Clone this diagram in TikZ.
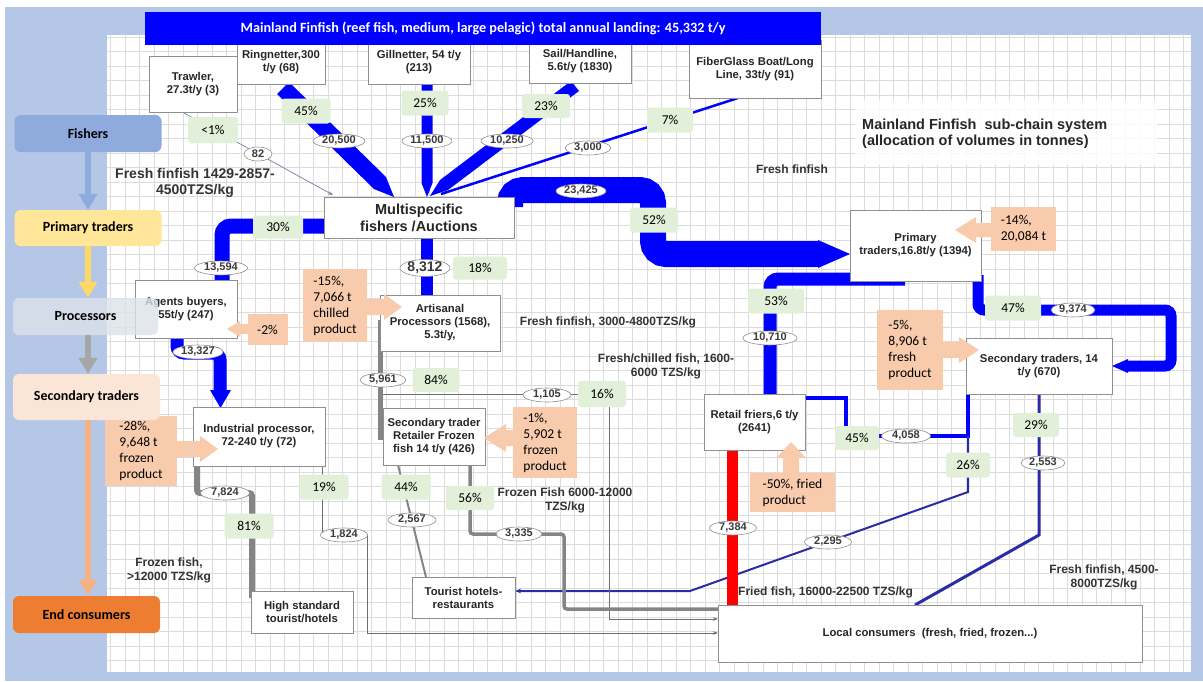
\documentclass[tikz,border=0pt]{standalone}
\usepackage{fontspec}
\setmainfont{Liberation Sans}
\newfontfamily\calfont{Carlito}
\usetikzlibrary{arrows.meta,shapes.geometric}

\definecolor{frameblue}{HTML}{B4C7E7}
\definecolor{gridline}{HTML}{DCDCDC}
\definecolor{flowblue}{HTML}{0000FF}
\definecolor{navyflow}{HTML}{2B2BA6}
\definecolor{trawlc}{HTML}{7080A8}
\definecolor{flowgrey}{HTML}{858585}
\definecolor{thingrey}{HTML}{707070}
\definecolor{boxedge}{HTML}{8F8F8F}
\definecolor{pctfill}{HTML}{E2F0D9}
\definecolor{callfill}{HTML}{F8CBAD}
\definecolor{fishfill}{HTML}{8FAADC}
\definecolor{primfill}{HTML}{FFE699}
\definecolor{primarrow}{HTML}{FFD966}
\definecolor{procfill}{HTML}{DCE1EA}
\definecolor{procarrow}{HTML}{A6A6A6}
\definecolor{secfill}{HTML}{FBE5D6}
\definecolor{secarrow}{HTML}{F4B183}
\definecolor{endfill}{HTML}{ED7D31}
\definecolor{txt}{HTML}{262626}
\definecolor{volt}{HTML}{3A3A3A}
\definecolor{notec}{HTML}{333333}

% block arrows of the orange callouts
\newcommand\calloutleft[6]{% tip x, tip y, box edge x, head length, head half, shaft half
  \fill[callfill] (#1,#2) -- ({#1+#4},{#2-#5}) -- ({#1+#4},{#2-#6}) -- (#3,{#2-#6})
    -- (#3,{#2+#6}) -- ({#1+#4},{#2+#6}) -- ({#1+#4},{#2+#5}) -- cycle;}
\newcommand\calloutright[6]{%
  \fill[callfill] (#1,#2) -- ({#1-#4},{#2-#5}) -- ({#1-#4},{#2-#6}) -- (#3,{#2-#6})
    -- (#3,{#2+#6}) -- ({#1-#4},{#2+#6}) -- ({#1-#4},{#2+#5}) -- cycle;}
\newcommand\calloutup[6]{% tip x, tip y, box edge y, ...
  \fill[callfill] (#1,#2) -- ({#1-#5},{#2+#4}) -- ({#1-#6},{#2+#4}) -- ({#1-#6},#3)
    -- ({#1+#6},#3) -- ({#1+#6},{#2+#4}) -- ({#1+#5},{#2+#4}) -- cycle;}

\begin{document}
\begin{tikzpicture}[x=1pt,y=-1pt,
  box/.style={draw=boxedge, line width=0.8pt, fill=white, align=center, inner sep=0pt,
    text=txt, font=\bfseries\fontsize{11.3}{13}\selectfont},
  pct/.style={fill=pctfill, rounded corners=3pt, inner sep=0pt,
    font=\calfont\fontsize{13.5}{16}\selectfont},
  vol/.style={ellipse, draw=boxedge, line width=0.6pt, fill=white, inner sep=0pt,
    minimum height=14pt, text=volt, font=\bfseries\fontsize{11}{12}\selectfont},
  callout/.style={fill=callfill, inner sep=0pt, align=left,
    font=\calfont\fontsize{13.5}{16}\selectfont},
  stage/.style={rounded corners=6pt, inner sep=0pt, minimum width=147pt,
    font=\calfont\bfseries\fontsize{14}{16}\selectfont},
  stagearrow/.style={line width=6pt, -{Triangle[length=16pt,width=18pt]}},
  note/.style={align=center, text=notec, font=\bfseries\fontsize{12}{14}\selectfont},
  band/.style={draw=flowblue, line width=#1, rounded corners=9pt},
  greyband/.style={draw=flowgrey, line width=#1, rounded corners=3pt},
  thin/.style={draw=thingrey, line width=0.8pt},
]
\useasboundingbox (0,0) rectangle (1203,681);
\fill[white] (0,0) rectangle (1203,681);
\fill[frameblue] (5,7) rectangle (1203,681);

% squared paper
\begin{scope}
  \clip (107,35) rectangle (1191,672);
  \fill[white] (107,35) rectangle (1191,672);
  \foreach \i in {0,...,75}
    \draw[gridline, line width=0.6pt] ({110.5+14.5*\i},35) -- ({110.5+14.5*\i},672);
  \foreach \j in {0,...,44}
    \draw[gridline, line width=0.6pt] (107,{37+14.5*\j}) -- (1191,{37+14.5*\j});
\end{scope}

% ---------- landings from the fleets ----------
\draw[trawlc, line width=0.7pt, -{Stealth[length=5pt,width=3.5pt]}] (184,113) -- (333,195);
\fill[flowblue] (277,94) -- (289,82) -- (386,177) -- (394,197) -- (374,189) -- cycle;
\fill[flowblue] (421.5,84) -- (432.5,84) -- (432.5,183) -- (427,197) -- (421.5,183) -- cycle;
\fill[flowblue] (571,81) -- (579,91) -- (448,190) -- (430,196) -- (440,180) -- cycle;
\draw[flowblue, line width=2.5pt] (738,98) -- (441,194);

% ---------- fresh fish out of the auctions ----------
\draw[band=26pt, rounded corners=13pt] (510,207) -- (510,190) -- (653,190) -- (653,254) -- (819,254);
\fill[flowblue] (818,240) -- (850,254) -- (818,268) -- cycle;
\draw[band=15pt] (324,226) -- (222,226) -- (222,282);
\draw[band=13pt, rounded corners=7pt] (177,336) -- (177,353) -- (220,353) -- (220,392);
\fill[flowblue] (210,390) -- (220.5,408) -- (231,390) -- cycle;
\draw[band=12pt, rounded corners=0pt] (427,238) -- (427,296);
\draw[band=13pt, rounded corners=8pt] (905,279) -- (770,279) -- (770,395);
\draw[band=11pt, rounded corners=6pt] (978,275) -- (978,310) -- (1171,310) -- (1171,366) -- (1127,366);
\fill[flowblue] (1128,359) -- (1112,366) -- (1128,373) -- cycle;

\draw[flowblue, line width=4pt] (968,394) -- (968,436) -- (846,436) -- (846,398) -- (805,398);
\draw[navyflow, line width=2pt, -{Stealth[length=6pt,width=4.5pt]}] (968,436) -- (968,492) -- (690,591) -- (515,591);
\draw[navyflow, line width=3pt] (1039,394) -- (1039,535) -- (915,605);
\draw[red, line width=11pt] (732.5,450) -- (732.5,605);

% ---------- chilled and frozen fish ----------
\draw[flowgrey, line width=5pt] (380.5,320) -- (380.5,440);
\draw[thin, -{Stealth[length=5pt,width=3.5pt]}] (383,394) -- (609,394) -- (609,619) -- (718,619);
\draw[flowgrey, line width=2pt] (398,465) -- (426,577);
\draw[greyband=3.5pt] (470,465) -- (470,534) -- (564,534) -- (564,609) -- (718,609);
\draw[greyband=6pt] (197,466) -- (197,493) -- (252,493) -- (252,598);
\draw[thin, -{Stealth[length=5pt,width=3.5pt]}] (322,466) -- (322,534) -- (367,534) -- (367,633) -- (718,633);

% ---------- actors ----------
\node[box, minimum width=88pt, minimum height=56pt] (trawler) at (193,84) {Trawler,\\27.3t/y (3)};
\node[box, minimum width=88pt, minimum height=44pt] (ring) at (281,62) {Ringnetter,300\\t/y (68)};
\node[box, minimum width=102pt, minimum height=44pt] (gill) at (419,62) {Gillnetter, 54 t/y\\(213)};
\node[box, minimum width=102pt, minimum height=43pt] (sail) at (580,61.5) {Sail/Handline,\\5.6t/y (1830)};
\node[box, minimum width=132pt, minimum height=58pt] (fiber) at (755,69) {FiberGlass Boat/Long\\Line, 33t/y (91)};

\node[box, minimum width=190pt, minimum height=41pt, font=\bfseries\fontsize{14.5}{17}\selectfont] (multi) at (419,217.5) {Multispecific\\fishers /Auctions};
\node[box, minimum width=102pt, minimum height=58pt] (agents) at (186,309) {Agents buyers,\\55t/y (247)};
\node[box, minimum width=120pt, minimum height=56pt] (artisan) at (440,323) {Artisanal\\Processors (1568),\\5.3t/y,};
\node[box, minimum width=132pt, minimum height=59pt] (industrial) at (259,436.5) {Industrial processor,\\72-240 t/y (72)};
\node[box, minimum width=102pt, minimum height=57pt] (retailfrozen) at (434,436.5) {Secondary trader\\Retailer Frozen\\fish 14 t/y (426)};
\node[box, minimum width=103pt, minimum height=41pt] (tourist) at (463.5,597.5) {Tourist hotels-\\restaurants};
\node[box, minimum width=102pt, minimum height=42pt] (highstd) at (302,612) {High standard\\tourist/hotels};
\node[box, minimum width=424pt, minimum height=57pt] (local) at (930,633.5) {Local consumers\ \ (fresh, fried, frozen...)};
\node[box, minimum width=131pt, minimum height=71pt] (primary) at (915.5,245.5) {Primary\\traders,16.8t/y (1394)};
\node[box, minimum width=146pt, minimum height=56pt] (sectraders) at (1039,366) {Secondary traders, 14\\t/y (670)};
\node[box, minimum width=101pt, minimum height=56pt] (friers) at (754.5,422) {Retail friers,6 t/y\\(2641)};

% ---------- header and caption ----------
\node[fill=flowblue, minimum width=676pt, minimum height=33pt, inner sep=0pt, text=white,
  font=\calfont\bfseries\fontsize{14.2}{16}\selectfont] (title) at (483,28.5)
  {Mainland Finfish (reef fish, medium, large pelagic) total annual landing: 45,332 t/y};
\fill[white, opacity=0.8] (855,100) rectangle (1157,165);
\node[anchor=west, align=left, inner sep=0pt, text=txt, font=\bfseries\fontsize{14.5}{16}\selectfont] (caption) at (862,134)
  {Mainland Finfish\ \ sub-chain system\\(allocation of volumes in tonnes)};

% ---------- prices ----------
\node[note, font=\bfseries\fontsize{14}{16}\selectfont] (price1) at (195,183) {Fresh finfish 1429-2857-\\4500TZS/kg};
\node[note] (price2) at (792,169) {Fresh finfish};
\node[note] (price3) at (608,322) {Fresh finfish, 3000-4800TZS/kg};
\node[note] (price4) at (666,366) {Fresh/chilled fish, 1600-\\6000 TZS/kg};
\node[note] (price5) at (565,500) {Frozen Fish 6000-12000\\TZS/kg};
\node[note] (price6) at (169,570) {Frozen fish,\\>12000 TZS/kg};
\node[note, anchor=west, inner sep=0pt] (price7) at (738,592) {Fried fish, 16000-22500 TZS/kg};
\node[note] (price8) at (1104,577) {Fresh finfish, 4500-\\8000TZS/kg};

% ---------- shares ----------
\node[pct, minimum width=50pt, minimum height=26pt] (s1) at (213,130) {<1\%};
\node[pct, minimum width=49pt, minimum height=25pt] (s2) at (306,111) {45\%};
\node[pct, minimum width=47pt, minimum height=25pt] (s3) at (425,103) {25\%};
\node[pct, minimum width=48pt, minimum height=24pt] (s4) at (546,106) {23\%};
\node[pct, minimum width=46pt, minimum height=25pt] (s5) at (670,120) {7\%};
\node[pct, minimum width=50pt, minimum height=23pt] (s6) at (278,227) {30\%};
\node[pct, minimum width=48pt, minimum height=25pt] (s7) at (654,220) {52\%};
\node[pct, minimum width=54pt, minimum height=23pt] (s8) at (480,268) {18\%};
\node[pct, minimum width=47pt, minimum height=24pt] (s9) at (436,380) {84\%};
\node[pct, minimum width=48pt, minimum height=26pt] (s10) at (602,394) {16\%};
\node[pct, minimum width=56pt, minimum height=25pt] (s11) at (776,301) {53\%};
\node[pct, minimum width=56pt, minimum height=25pt] (s12) at (1013,308) {47\%};
\node[pct, minimum width=44pt, minimum height=24pt] (s13) at (857,438) {45\%};
\node[pct, minimum width=44pt, minimum height=25pt] (s14) at (968,465) {26\%};
\node[pct, minimum width=46pt, minimum height=24pt] (s15) at (1036,425) {29\%};
\node[pct, minimum width=49pt, minimum height=25pt] (s16) at (324,487) {19\%};
\node[pct, minimum width=49pt, minimum height=25pt] (s17) at (406,487) {44\%};
\node[pct, minimum width=48pt, minimum height=24pt] (s18) at (470,498) {56\%};
\node[pct, minimum width=49pt, minimum height=25pt] (s19) at (249,526) {81\%};

% ---------- volumes ----------
\node[vol, minimum width=28pt] (t1) at (258,154) {82};
\node[vol, minimum width=52pt] (t2) at (339,141) {20,500};
\node[vol, minimum width=50pt] (t3) at (427,141) {11,500};
\node[vol, minimum width=52pt] (t4) at (507,141) {10,250};
\node[vol, minimum width=46pt] (t5) at (588,148) {3,000};
\node[vol, minimum width=50pt] (t6) at (581,191) {23,425};
\node[vol, minimum width=53pt] (t7) at (221,268) {13,594};
\node[vol, minimum width=50pt, minimum height=16pt, font=\bfseries\fontsize{14}{16}\selectfont] (t8) at (425,268) {8,312};
\node[vol, minimum width=50pt] (t9) at (198,352) {13,327};
\node[vol, minimum width=46pt] (t10) at (383,380) {5,961};
\node[vol, minimum width=48pt] (t11) at (547,395) {1,105};
\node[vol, minimum width=54pt] (t12) at (770,338) {10,710};
\node[vol, minimum width=44pt] (t13) at (1073,310) {9,374};
\node[vol, minimum width=49pt] (t14) at (906,436) {4,058};
\node[vol, minimum width=44pt] (t15) at (1043,463) {2,553};
\node[vol, minimum width=49pt] (t16) at (225,493) {7,824};
\node[vol, minimum width=47pt] (t17) at (344,535) {1,824};
\node[vol, minimum width=48pt] (t18) at (412,520) {2,567};
\node[vol, minimum width=46pt] (t19) at (519,534) {3,335};
\node[vol, minimum width=47pt] (t20) at (733,528) {7,384};
\node[vol, minimum width=47pt] (t21) at (828,542) {2,295};

% ---------- losses ----------
\calloutleft{955}{230}{992}{21}{13}{7}
\node[callout, minimum width=65pt, minimum height=44pt] (loss1) at (1023.5,229) {-14\%,\\20,084 t};
\calloutleft{227}{329}{248}{13}{8}{5}
\node[callout, minimum width=40pt, minimum height=31pt] (loss2) at (267.5,329.5) {-2\%};
\calloutright{402}{307}{366}{18}{13}{8}
\node[callout, minimum width=64pt, minimum height=73pt] (loss3) at (335,305.5) {-15\%,\\7,066 t\\chilled\\product};
\calloutright{218}{449}{176}{18}{13}{8}
\node[callout, minimum width=72pt, minimum height=70pt] (loss4) at (141,451) {-28\%,\\9,648 t\\frozen\\product};
\calloutleft{484}{438}{514}{22}{14}{8}
\node[callout, minimum width=64pt, minimum height=71pt] (loss5) at (545,442.5) {-1\%,\\5,902 t\\frozen\\product};
\calloutup{791}{442}{474}{16}{15}{8}
\node[callout, minimum width=85pt, minimum height=39pt] (loss6) at (792.5,492.5) {-50\%, fried\\product};
\calloutright{979}{350}{942}{20}{13}{8}
\node[callout, minimum width=66pt, minimum height=80pt] (loss7) at (910,350) {-5\%,\\8,906 t\\fresh\\product};

% ---------- chain stages ----------
\node[stage, fill=fishfill, minimum height=37pt] (fishers) at (88,133.5) {Fishers};
\node[stage, fill=primfill, minimum height=36pt] (primst) at (88,228) {Primary traders};
\node[stage, fill=secfill, minimum height=46pt] (secst) at (86.5,397) {Secondary traders};
\node[stage, fill=endfill, minimum height=37pt] (endst) at (86.5,614.5) {End consumers};
\node[stage, fill=procfill, fill opacity=0.8, text opacity=1, minimum width=145pt, minimum height=37pt] (procst) at (85.5,316.5) {Processors};
\draw[stagearrow, fishfill] (fishers.south) -- (primst.north);
\draw[stagearrow, primarrow] (primst.south) -- ([xshift=2.5pt]procst.north);
\draw[stagearrow, procarrow] ([xshift=2.5pt]procst.south) -- ([xshift=1.5pt]secst.north);
\draw[stagearrow, secarrow] ([xshift=1.5pt]secst.south) -- ([xshift=1.5pt]endst.north);
\end{tikzpicture}
\end{document}
